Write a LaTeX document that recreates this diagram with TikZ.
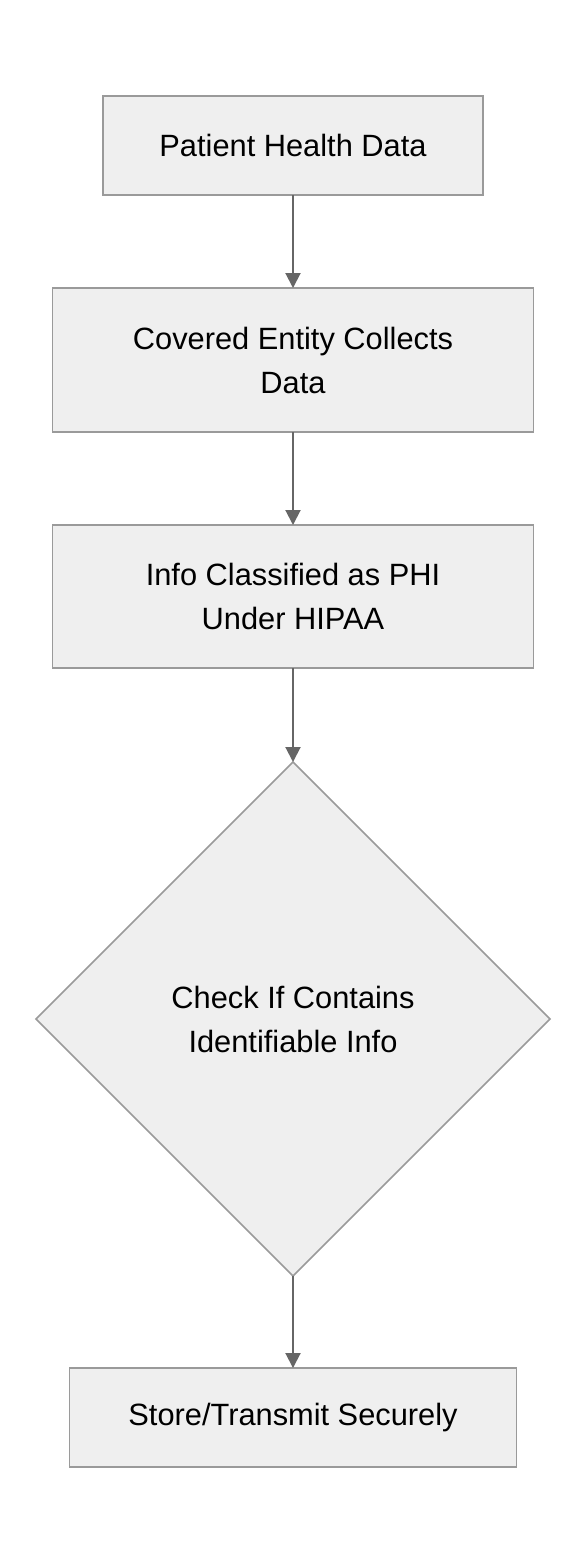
\documentclass[tikz,border=0pt]{standalone}
\usepackage{fontspec}
\setmainfont{Liberation Sans}
\usetikzlibrary{shapes.geometric,arrows.meta}
\definecolor{boxfill}{HTML}{EFEFEF}
\definecolor{boxline}{HTML}{9A9A9A}
\definecolor{arrowcol}{HTML}{666666}
\begin{document}
\begin{tikzpicture}[x=1pt,y=-1pt,
  every node/.style={font=\fontsize{30.8}{44}\selectfont, text=black},
  stepbox/.style={draw=boxline, fill=boxfill, line width=1.5pt, rectangle, inner sep=0pt, outer sep=0pt, align=center},
  decide/.style={draw=boxline, fill=boxfill, line width=1.5pt, diamond, inner sep=0pt, outer sep=0pt, align=center, minimum width=514pt, minimum height=514pt},
  flow/.style={draw=arrowcol, line width=2pt, -{Triangle[length=15pt,width=15pt]}}]
\useasboundingbox (0,0) rectangle (588,1564);
\fill[white] (0,0) rectangle (588,1564);
\node[stepbox, minimum width=380pt, minimum height=99pt] (a) at (293,145.5) {Patient Health Data};
\node[stepbox, minimum width=481pt, minimum height=144pt] (b) at (293,360) {Covered Entity Collects\\Data};
\node[stepbox, minimum width=481pt, minimum height=143pt] (c) at (293,596.5) {Info Classified as PHI\\Under HIPAA};
\node[decide] (d) at (293,1019) {Check If Contains\\Identifiable Info};
\node[stepbox, minimum width=447pt, minimum height=99pt] (e) at (293,1417.5) {Store/Transmit Securely};
\draw[flow] (a.south) -- (b.north);
\draw[flow] (b.south) -- (c.north);
\draw[flow] (c.south) -- (d.north);
\draw[flow] (d.south) -- (e.north);
\end{tikzpicture}
\end{document}
